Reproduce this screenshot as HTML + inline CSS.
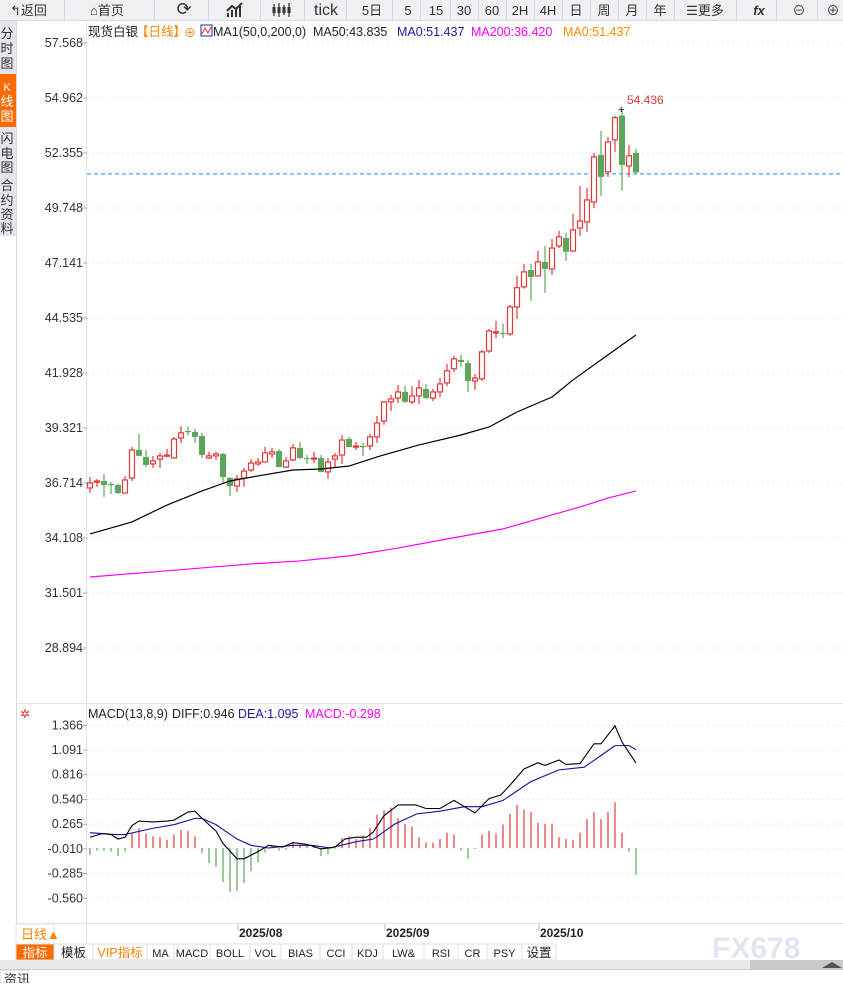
<!DOCTYPE html>
<html><head><meta charset="utf-8">
<style>
body{margin:0;width:843px;height:983px;overflow:hidden;background:#fff;font-family:"Liberation Sans","Noto Sans CJK SC",sans-serif;}
svg text{font-family:"Liberation Sans","Noto Sans CJK SC",sans-serif;}
</style></head>
<body>
<svg id="root" width="843" height="983" xmlns="http://www.w3.org/2000/svg">
<g>
<rect x="0" y="0" width="843" height="20" fill="#eef0f4"/>
<line x1="0" y1="20.5" x2="843" y2="20.5" stroke="#d6d9e0"/>
</g>
<g id="tb" font-size="14" fill="#333"></g>
<g>
<rect x="0" y="21" width="16" height="215" fill="#e4e6ec"/>
<rect x="0" y="74" width="16" height="53" fill="#ff6a00"/>
<line x1="16.5" y1="21" x2="16.5" y2="943" stroke="#d6d9e0"/>
<g font-size="13" fill="#333" text-anchor="middle">
<text x="7" y="38">分</text><text x="7" y="53">时</text><text x="7" y="68">图</text>
<text x="7" y="91" fill="#fff" font-size="11">K</text><text x="7" y="106" fill="#fff">线</text><text x="7" y="121" fill="#fff">图</text>
<text x="7" y="143">闪</text><text x="7" y="158">电</text><text x="7" y="172">图</text>
<text x="7" y="190">合</text><text x="7" y="205">约</text><text x="7" y="219">资</text><text x="7" y="233">料</text>
</g>
</g>
<line x1="86.5" y1="21" x2="86.5" y2="943" stroke="#dde3ea"/>
<line x1="16" y1="703.5" x2="843" y2="703.5" stroke="#dde3ea"/>
<line x1="16" y1="923.5" x2="843" y2="923.5" stroke="#dde3ea"/>
<g id="main"></g>
<g id="macd"></g>
<g font-size="12.5">
<text x="88" y="36" fill="#222">现货白银</text>
<text x="136" y="36" fill="#ff7f00">【日线】</text>
<text x="184" y="37" fill="#ff7f00" font-size="12">⊕</text>
<rect x="201" y="25" width="11" height="11" fill="#fff" stroke="#1a2a9a"/>
<path d="M202,34 L205,28 L208,33 L211,27" stroke="#e33" fill="none"/>
<text x="213" y="36" fill="#222">MA1(50,0,200,0)</text>
<text x="313" y="36" fill="#222">MA50:43.835</text>
<text x="397" y="36" fill="#1a1aa0">MA0:51.437</text>
<text x="471" y="36" fill="#ff00ff">MA200:36.420</text>
<text x="563" y="36" fill="#ff8c00">MA0:51.437</text>
</g>
<g font-size="12.5">
<text x="20" y="718" fill="#c33" font-size="12">✲</text>
<text x="88" y="718" fill="#222">MACD(13,8,9)</text>
<text x="172" y="718" fill="#222">DIFF:0.946</text>
<text x="238" y="718" fill="#1a1aa0">DEA:1.095</text>
<text x="305" y="718" fill="#ff00ff">MACD:-0.298</text>
</g>
<g>
<rect x="16" y="924" width="38" height="20" fill="#fff" stroke="#dde3ea"/>
<text x="21" y="939" font-size="13" fill="#ff7f00">日线▲</text>
<g id="dates" font-size="12" fill="#222" font-weight="bold"></g>
<rect x="0" y="944" width="843" height="16" fill="#fff"/>
<g id="tabs" font-size="12"></g>
<text x="712" y="958" font-size="30" fill="#dfe6ef" font-weight="bold">FX678</text>
<rect x="0" y="960" width="843" height="9" fill="#e8e8e8"/>
<rect x="750" y="960" width="93" height="9" fill="#c8c8c8"/>
<path d="M822,968 L832,962 L842,968 Z" fill="#555"/>
<line x1="0" y1="969.5" x2="843" y2="969.5" stroke="#ccc"/>
<rect x="0" y="970" width="28" height="13" fill="#fff" stroke="#ccc"/>
<text x="4" y="984" font-size="13" fill="#333">资讯</text>
</g>
</svg>
<script>
const openP=[36.48,36.76,36.81,36.67,36.62,36.24,36.95,38.28,37.95,37.62,37.85,38.00,37.90,38.85,39.18,39.13,38.94,37.90,38.00,38.09,36.95,36.57,36.95,37.33,37.62,37.71,38.09,38.23,37.47,37.81,38.38,37.90,37.88,37.90,37.24,37.85,38.04,38.80,38.45,38.47,38.47,38.90,39.65,40.56,40.74,41.03,40.56,40.84,41.17,40.74,41.03,41.46,42.13,42.55,42.40,41.55,41.65,42.97,43.85,43.83,43.78,45.06,46.01,46.81,46.53,47.19,46.86,47.95,48.33,47.71,48.80,49.09,50.03,52.27,51.46,52.98,54.13,51.74,52.36];
const closeP=[36.72,36.81,36.62,36.65,36.24,36.86,38.28,38.00,37.57,37.76,38.00,38.04,38.80,39.09,39.16,38.90,38.04,38.00,38.09,37.00,36.57,36.91,37.28,37.66,37.71,38.14,38.19,37.47,37.76,38.38,37.90,37.88,37.90,37.24,37.71,38.00,38.75,38.42,38.47,38.45,38.90,39.56,40.56,40.70,41.03,40.56,40.84,41.22,40.74,41.03,41.41,42.03,42.60,42.45,41.55,41.69,42.93,43.92,43.88,43.80,45.06,45.97,46.72,46.48,47.19,46.86,47.85,48.38,47.67,48.71,49.13,50.13,52.17,51.22,52.88,54.03,51.79,52.22,51.437];
const highP=[37.00,36.90,37.14,36.76,36.67,37.05,38.42,39.04,38.28,38.00,38.14,38.33,38.90,39.42,39.38,39.28,39.09,38.19,38.19,38.14,37.00,37.10,37.43,37.85,37.90,38.42,38.38,38.33,37.95,38.56,38.66,38.04,38.19,38.04,37.90,38.14,38.99,38.90,38.66,38.61,39.04,39.89,40.60,40.89,41.36,41.31,41.31,41.60,41.41,41.17,41.69,42.36,42.74,42.79,42.55,41.88,43.02,44.02,44.40,44.26,45.16,46.53,47.10,47.10,47.71,47.95,48.28,48.66,48.57,49.47,50.79,50.70,52.36,53.40,53.12,54.13,54.436,52.74,52.55];
const lowP=[36.24,36.53,36.05,36.19,36.19,36.24,36.81,38.00,37.47,37.43,37.43,37.95,37.90,38.61,38.99,38.61,37.90,37.85,37.81,36.72,36.10,36.29,36.53,37.24,37.52,37.71,37.90,37.47,37.43,37.76,37.85,37.62,37.66,37.24,36.91,37.47,37.62,38.42,38.28,38.00,38.28,38.61,39.47,40.13,40.51,40.51,40.46,40.46,40.70,40.60,40.79,41.31,41.98,42.22,41.03,41.12,41.55,42.88,43.59,43.59,43.69,44.49,45.92,45.35,46.53,45.73,46.58,47.85,47.24,47.67,48.42,48.61,49.75,50.32,51.22,52.41,50.56,51.22,51.37];
const ma50Idx=[0,6,11,16,20,24,29,33,37,41,47,53,57,61,66,69,73,76,78];
const ma50Val=[34.30,34.87,35.67,36.34,36.81,37.05,37.33,37.38,37.52,37.95,38.52,38.99,39.37,40.08,40.79,41.60,42.55,43.26,43.73];
const ma200Idx=[0,9,16,23,30,37,44,51,59,64,70,74,78];
const ma200Val=[32.26,32.50,32.69,32.88,33.02,33.26,33.63,34.06,34.54,35.01,35.58,36.00,36.34];
const priceTicks=["57.568","54.962","52.355","49.748","47.141","44.535","41.928","39.321","36.714","34.108","31.501","28.894"];
const lastPrice=51.437;
const macdBars=[-0.08,-0.03,-0.03,-0.04,-0.09,-0.04,0.16,0.22,0.16,0.13,0.12,0.09,0.15,0.20,0.19,0.13,-0.06,-0.17,-0.21,-0.38,-0.49,-0.48,-0.39,-0.26,-0.16,-0.05,0.03,-0.03,-0.02,0.07,0.04,0.04,0.02,-0.09,-0.07,-0.01,0.11,0.13,0.10,0.14,0.22,0.37,0.42,0.45,0.33,0.27,0.24,0.12,0.06,0.06,0.10,0.17,0.15,-0.03,-0.12,-0.01,0.15,0.19,0.16,0.26,0.38,0.48,0.43,0.40,0.28,0.27,0.27,0.12,0.10,0.09,0.17,0.32,0.40,0.32,0.40,0.51,0.17,-0.04,-0.298];
const diffIdx=[0,1.7,3,4,5,6,7,9,11,12,14,15,16,18,19,21,22,24,25.5,27.5,29,31,33,35,36.4,38,39.5,40.5,42,44,46.5,48,50,52,55,57,58.7,60,62,64,65,67,68,70,72,73,75,76,78];
const diffVal=[0.12,0.16,0.15,0.10,0.12,0.25,0.30,0.29,0.30,0.31,0.40,0.41,0.33,0.19,0.05,-0.12,-0.12,-0.04,0.03,0.01,0.06,0.04,-0.01,0.01,0.10,0.12,0.12,0.18,0.36,0.48,0.48,0.44,0.44,0.53,0.39,0.55,0.59,0.70,0.88,0.95,0.92,0.98,0.93,0.94,1.16,1.16,1.36,1.18,0.946];
const deaIdx=[0,3.7,5,9,12,15,16,18,21,23,25.5,29,31.7,34.3,38,40.5,43.6,46.7,50,53.5,56,59,63,67,70.6,73,75,77,78];
const deaVal=[0.17,0.15,0.15,0.22,0.26,0.33,0.33,0.26,0.10,0.03,0.00,0.03,0.03,0.00,0.07,0.10,0.27,0.38,0.41,0.46,0.46,0.53,0.74,0.87,0.90,1.03,1.14,1.14,1.095];
const macdTicks=["1.366","1.091","0.816","0.540","0.265","-0.010","-0.285","-0.560"];
const dateLabels=["2025/08","2025/09","2025/10"];
const dateIdx=[22,43,65];
const toolbarItems=["返回","首页","⟳","","","tick","5日","5","15","30","60","2H","4H","日","周","月","年","☰更多","fx","⊖","⊕"];
const tabItems=["指标","模板","VIP指标","MA","MACD","BOLL","VOL","BIAS","CCI","KDJ","LW&","RSI","CR","PSY","设置"];

const NS="http://www.w3.org/2000/svg";
const xAt=i=>90+i*7;
const yP=p=>43+(57.568-p)*21.1;
const yM=v=>848-v*89.8;
function mk(tag,attrs,parent,txt){const e=document.createElementNS(NS,tag);for(const k in attrs)e.setAttribute(k,attrs[k]);if(txt!==undefined)e.textContent=txt;parent.appendChild(e);return e;}
const main=document.getElementById('main'), macd=document.getElementById('macd');
const RED="#e2393a", GREEN="#5da55a";

priceTicks.forEach(t=>{const y=yP(parseFloat(t));
 const g=mk('line',{x1:87,y1:y,x2:843,y2:y,stroke:'#e6e9ee','stroke-dasharray':'2,3'},main);
 
 const tx=mk('text',{x:83,y:y+4,'text-anchor':'end','font-size':12.5,fill:'#333'},main,t);
 
 mk('line',{x1:83,y1:y,x2:87,y2:y,stroke:'#aab'},main);
});
const cp=mk('line',{x1:87,y1:yP(lastPrice)+1.5,x2:843,y2:yP(lastPrice)+1.5,stroke:'#1e8bff','stroke-dasharray':'4,3'},main);


openP.forEach((o,i)=>{const c=closeP[i],x=xAt(i),up=c>=o,col=up?RED:GREEN;
 const g=mk('g',{},main);
 
 const top=yP(Math.max(o,c)),bot=yP(Math.min(o,c));
 mk('line',{x1:x,y1:yP(highP[i]),x2:x,y2:top,stroke:col,'stroke-width':1.2},g);
 mk('line',{x1:x,y1:bot,x2:x,y2:yP(lowP[i]),stroke:col,'stroke-width':1.2},g);
 const h=Math.max(bot-top,1.2);
 if(up) mk('rect',{x:x-2.5,y:top,width:5,height:h,fill:'#fff',stroke:col,'stroke-width':1.2},g);
 else mk('rect',{x:x-3,y:top,width:6,height:h,fill:col},g);
});
let hi=0;highP.forEach((h,i)=>{if(h>highP[hi])hi=i;});
mk('text',{x:xAt(hi)-4,y:yP(highP[hi])+4,'font-size':11,fill:'#000'},main,'+');
const hl=mk('text',{x:xAt(hi)+5,y:yP(highP[hi])-5,'font-size':12,fill:'#e2393a'},main,highP[hi].toFixed(3));


function poly(idx,val,yf,col,w,name,parent){const pts=idx.map((t,k)=>xAt(t)+','+yf(val[k])).join(' ');
 const p=mk('polyline',{points:pts,fill:'none',stroke:col,'stroke-width':w},parent);
 }
poly(ma50Idx,ma50Val,yP,'#000',1.2,'ma50-line',main);
poly(ma200Idx,ma200Val,yP,'#ff00ff',1.2,'ma200-line',main);

macdTicks.forEach(t=>{const y=yM(parseFloat(t));
 mk('line',{x1:87,y1:y,x2:843,y2:y,stroke:'#e6e9ee','stroke-dasharray':'2,3'},macd);
 const tx=mk('text',{x:83,y:y+4,'text-anchor':'end','font-size':12.5,fill:'#333'},macd,t);
 
 mk('line',{x1:83,y1:y,x2:87,y2:y,stroke:'#aab'},macd);
});
macdBars.forEach((v,i)=>{const b=mk('line',{x1:xAt(i),y1:yM(0),x2:xAt(i),y2:yM(v),stroke:v>=0?RED:GREEN,'stroke-width':1.2},macd);
 });
poly(deaIdx,deaVal,yM,'#1010a0',1.1,'dea-line',macd);
poly(diffIdx,diffVal,yM,'#000',1.1,'diff-line',macd);

const dg=document.getElementById('dates');
dateLabels.forEach((d,k)=>{const x=xAt(dateIdx[k])-6;
 mk('line',{x1:x,y1:924,x2:x,y2:930,stroke:'#bbb'},dg);
 const t=mk('text',{x:x+1,y:937},dg,d);
 });

const tb=document.getElementById('tb');
const tbX=[8,84,160,212,260,306,352,396,422,450,478,506,534,562,590,618,646,674,742,781,818];
const tbW=[56,70,48,48,44,40,40,24,28,28,28,28,28,28,28,28,28,62,34,36,30];
toolbarItems.forEach((s,k)=>{const x=tbX[k];
 const g=mk('g',{},tb);
 
 mk('line',{x1:x+tbW[k]+0.5,y1:0,x2:x+tbW[k]+0.5,y2:20,stroke:'#d6d9e0'},g);
 const cx=x+tbW[k]/2;
 if(k===3){mk('path',{d:`M${cx-8},17 L${cx-8},13 M${cx-4},17 L${cx-4},10 M${cx},17 L${cx},8 M${cx+4},17 L${cx+4},6 M${cx-9},11 L${cx-4},6 L${cx},9 L${cx+6},3`,stroke:'#333','stroke-width':2,fill:'none'},g);}
 else if(k===4){mk('path',{d:`M${cx-8},4 L${cx-8},16 M${cx-3},3 L${cx-3},17 M${cx+2},5 L${cx+2},15 M${cx+7},3 L${cx+7},17`,stroke:'#333','stroke-width':1.2,fill:'none'},g);
  [-8,-3,2,7].forEach(d=>mk('rect',{x:cx+d-1.5,y:7,width:3,height:6,fill:'#333'},g));}
 else if(k===0){mk('text',{x:x+2,y:15,'font-size':13},g,'↰返回');}
 else if(k===1){mk('text',{x:x+6,y:15,'font-size':13},g,'⌂首页');}
 else mk('text',{x:cx,y:15,'text-anchor':'middle','font-size':k===5?16:(k===2?18:13),'font-style':k===18?'italic':'normal','font-weight':k===18?'bold':'normal'},g,s);
});

const tg=document.getElementById('tabs');
const tabW=[38,39,54,27,36,40,31,39,32,31,41,34,29,35,34];
let tx0=16;
tabItems.forEach((s,k)=>{const w=tabW[k];
 const g=mk('g',{},tg);
 
 mk('rect',{x:tx0,y:944,width:w,height:16,fill:k===0?'#ff6a00':'#fff',stroke:'#ddd'},g);
 mk('text',{x:tx0+w/2,y:957,'text-anchor':'middle',fill:k===0?'#fff':(k===2?'#ff7f00':'#222'),'font-size':(k===0||k===1||k===2||k===14)?12.5:11,'font-family':'Liberation Serif, Noto Serif CJK SC, serif'},g,s);
 tx0+=w;});
</script>
</body></html>
